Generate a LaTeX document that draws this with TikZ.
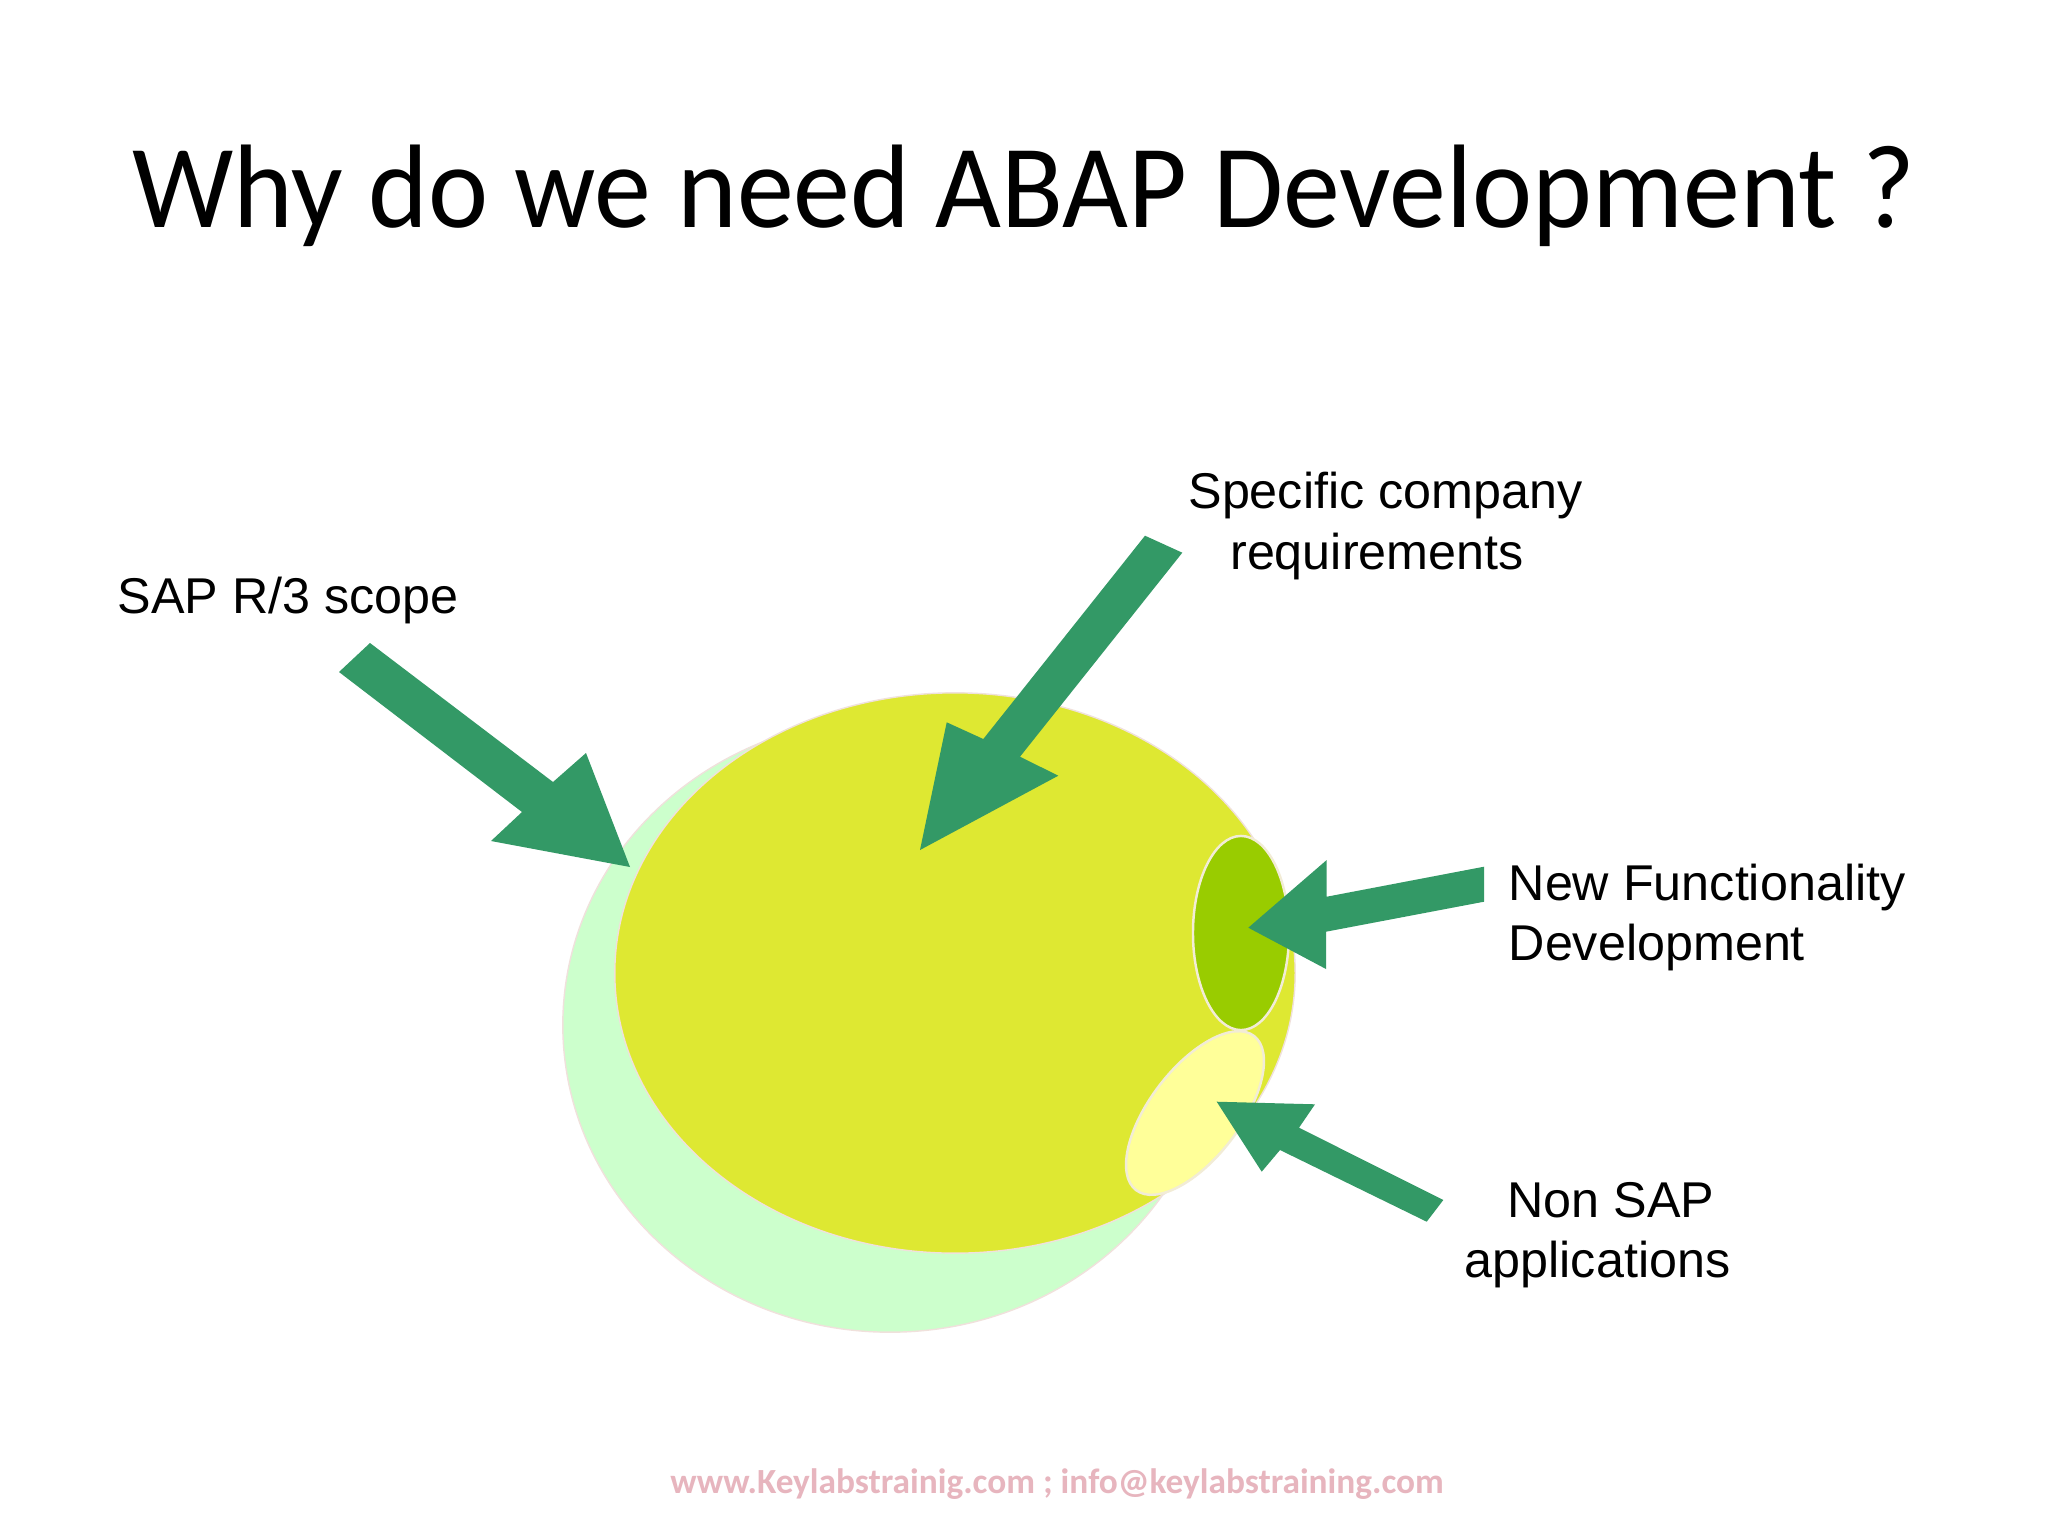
\documentclass[tikz,border=0pt]{standalone}
\usepackage{fontspec}
\setmainfont{Liberation Sans}
\newfontfamily\calibrifont{Carlito}
\usetikzlibrary{shapes.geometric}
\definecolor{arrowgreen}{RGB}{51,153,102}
\definecolor{scopegreen}{RGB}{204,255,204}
\definecolor{mainyellow}{RGB}{222,232,50}
\definecolor{newgreen}{RGB}{153,204,0}
\definecolor{paleyellow}{RGB}{255,255,153}
\definecolor{rimcream}{RGB}{242,236,214}
\definecolor{rimpink}{RGB}{240,225,220}
\definecolor{footerpink}{RGB}{231,181,190}
\tikzset{
  blob/.style={ellipse, inner sep=0pt, outer sep=0pt},
  bigblob/.style={blob, draw=rimpink, line width=0.4pt},
  smallblob/.style={blob, draw=rimcream, line width=0.7pt},
  blockarrow/.style={fill=arrowgreen},
  labeltext/.style={inner sep=0pt, font=\fontsize{14.3pt}{17pt}\selectfont, text=black},
  titletext/.style={inner sep=0pt, font=\calibrifont\fontsize{33.8pt}{40pt}\selectfont, text=black},
  footertext/.style={inner sep=0pt, font=\calibrifont\bfseries\fontsize{10.05pt}{12pt}\selectfont, text=footerpink}
}
\begin{document}
\begin{tikzpicture}[x=0.01cm,y=-0.01cm]
\useasboundingbox[fill=white] (0,0) rectangle (2048,1536);

% title
\node[titletext, anchor=base] (title) at (1024,227) {\scalebox{0.958}[1]{Why do we need ABAP Development ?}};

% ellipses
\node[bigblob, fill=scopegreen, minimum width=6.54cm, minimum height=6.14cm] (scope) at (890,1025) {};
\node[bigblob, fill=mainyellow, minimum width=6.80cm, minimum height=5.60cm] (company) at (955,973) {};
\node[smallblob, fill=newgreen, minimum width=0.96cm, minimum height=1.94cm] (newfunc) at (1241,933) {};
\node[smallblob, fill=paleyellow, minimum width=1.94cm, minimum height=0.90cm, rotate=52.6] (nonsap) at (1195,1113) {};

% arrow 1: SAP R/3 scope
\coordinate (a1t1) at (370,643);
\coordinate (a1j1) at (553,782);
\coordinate (a1h1) at (586,753);
\coordinate (a1tip) at (630,867);
\coordinate (a1h2) at (491,841);
\coordinate (a1j2) at (522,812);
\coordinate (a1t2) at (339,672);
\fill[blockarrow] (a1t1) -- (a1j1) -- (a1h1) -- (a1tip) -- (a1h2) -- (a1j2) -- (a1t2) -- cycle;

% arrow 2: Specific company requirements
\coordinate (a2t1) at (1182.3,552.7);
\coordinate (a2j1) at (1020,756.7);
\coordinate (a2h1) at (1058.3,775.7);
\coordinate (a2tip) at (920,850);
\coordinate (a2h2) at (946.7,722.3);
\coordinate (a2j2) at (983.3,739);
\coordinate (a2t2) at (1145,535.7);
\fill[blockarrow] (a2t1) -- (a2j1) -- (a2h1) -- (a2tip) -- (a2h2) -- (a2j2) -- (a2t2) -- cycle;

% arrow 3: New Functionality Development
\coordinate (a3t1) at (1484,866.7);
\coordinate (a3j1) at (1326.7,896.7);
\coordinate (a3h1) at (1326.7,860);
\coordinate (a3tip) at (1248.3,927.7);
\coordinate (a3h2) at (1326,969);
\coordinate (a3j2) at (1326,931.7);
\coordinate (a3t2) at (1484,901.7);
\fill[blockarrow] (a3t1) -- (a3j1) -- (a3h1) -- (a3tip) -- (a3h2) -- (a3j2) -- (a3t2) -- cycle;

% arrow 4: Non SAP applications
\coordinate (a4t1) at (1443.3,1200);
\coordinate (a4j1) at (1299,1127.7);
\coordinate (a4h1) at (1315,1104.3);
\coordinate (a4tip) at (1216.7,1101.7);
\coordinate (a4h2) at (1261.7,1171.7);
\coordinate (a4j2) at (1280,1150);
\coordinate (a4t2) at (1426.7,1221.7);
\fill[blockarrow] (a4t1) -- (a4j1) -- (a4h1) -- (a4tip) -- (a4h2) -- (a4j2) -- (a4t2) -- cycle;

% labels
\node[labeltext, anchor=base west] (lscope) at (117,613) {SAP R/3 scope};
\node[labeltext, anchor=base] (lspec1) at (1385.5,508) {Specific company};
\node[labeltext, anchor=base] (lspec2) at (1377,569) {requirements};
\node[labeltext, anchor=base west] (lnew1) at (1508,900) {New Functionality};
\node[labeltext, anchor=base west] (lnew2) at (1508,960) {Development};
\node[labeltext, anchor=base] (lnon1) at (1611,1217) {Non SAP};
\node[labeltext, anchor=base] (lnon2) at (1597.5,1277) {applications};

% footer
\node[footertext, anchor=base] (footer) at (1057,1493) {www.Keylabstrainig.com ; info@keylabstraining.com};
\end{tikzpicture}
\end{document}
